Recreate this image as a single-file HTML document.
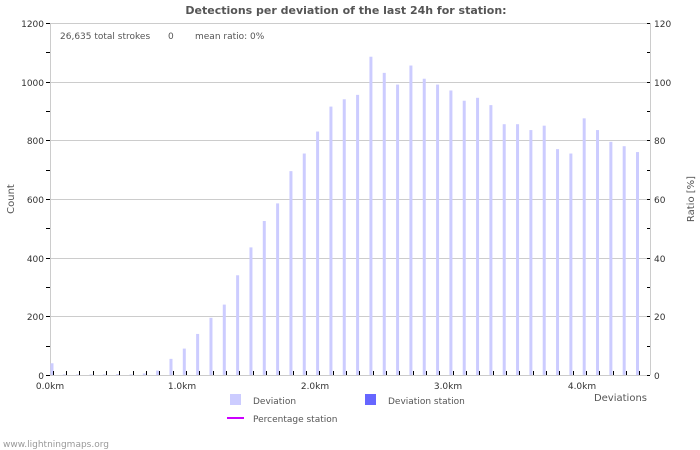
<!DOCTYPE html>
<html><head><meta charset="utf-8"><style>
body{margin:0;background:#fff;}
svg{display:block;font-family:"DejaVu Sans","Liberation Sans",sans-serif;}
</style></head><body>
<svg width="700" height="450" xmlns="http://www.w3.org/2000/svg">
<rect width="700" height="450" fill="#fff"/>
<text x="346" y="14" text-anchor="middle" font-size="11" font-weight="bold" fill="#555">Detections per deviation of the last 24h for station:</text>
<g stroke="#ccc" stroke-width="1">
<line x1="50" y1="23.5" x2="650" y2="23.5"/>
<line x1="50" y1="82.5" x2="650" y2="82.5"/>
<line x1="50" y1="140.5" x2="650" y2="140.5"/>
<line x1="50" y1="199.5" x2="650" y2="199.5"/>
<line x1="50" y1="258.5" x2="650" y2="258.5"/>
<line x1="50" y1="316.5" x2="650" y2="316.5"/>
<line x1="50.5" y1="23" x2="50.5" y2="375"/>
<line x1="650.5" y1="23" x2="650.5" y2="375"/>
</g>
<g id="bars" fill="#ccccff"></g>
<line x1="50" y1="375.5" x2="650" y2="375.5" stroke="#ccc"/>
<g id="ticks" stroke="#000" stroke-width="1"></g>
<g font-size="9" fill="#333" text-anchor="end">
<text x="44" y="27">1200</text><text x="44" y="86">1000</text><text x="44" y="144">800</text>
<text x="44" y="203">600</text><text x="44" y="262">400</text><text x="44" y="320">200</text><text x="44" y="379">0</text>
</g>
<g font-size="9" fill="#333">
<text x="654" y="27">120</text><text x="654" y="86">100</text><text x="654" y="144">80</text>
<text x="654" y="203">60</text><text x="654" y="262">40</text><text x="654" y="320">20</text><text x="654" y="379">0</text>
</g>
<g font-size="9" fill="#333" text-anchor="middle">
<text x="50" y="389">0.0km</text><text x="182" y="389">1.0km</text><text x="315" y="389">2.0km</text>
<text x="448" y="389">3.0km</text><text x="582" y="389">4.0km</text>
</g>
<text x="60" y="39" font-size="9" fill="#555">26,635 total strokes</text>
<text x="168" y="39" font-size="9" fill="#555">0</text>
<text x="195" y="39" font-size="9" fill="#555">mean ratio: 0%</text>
<text x="14" y="199" font-size="10" fill="#555" text-anchor="middle" transform="rotate(-90 14 199)">Count</text>
<text x="694" y="199" font-size="10" fill="#555" text-anchor="middle" transform="rotate(-90 694 199)">Ratio [%]</text>
<text x="647" y="401" font-size="10" fill="#555" text-anchor="end">Deviations</text>
<rect x="230" y="394" width="11" height="11" fill="#ccccff"/>
<text x="253" y="404" font-size="9" fill="#555">Deviation</text>
<rect x="365" y="394" width="11" height="11" fill="#6666ff"/>
<text x="388" y="404" font-size="9" fill="#555">Deviation station</text>
<line x1="227" y1="418" x2="244" y2="418" stroke="#cc00ff" stroke-width="2"/>
<text x="253" y="422" font-size="9" fill="#555">Percentage station</text>
<text x="3" y="447" font-size="9" fill="#999">www.lightningmaps.org</text>
</svg>
<script>
var v=[40,2,2,2,2,3,2,5,15,55,90,140,195,240,340,435,525,585,695,755,830,915,940,955,1085,1030,990,1055,1010,990,970,935,945,920,855,855,835,850,770,755,875,835,795,780,760];
var b=document.getElementById('bars'),t=document.getElementById('ticks'),ns='http://www.w3.org/2000/svg';
v.forEach(function(x,i){var r=document.createElementNS(ns,'rect');var h=x*352/1200;var xx=i==0?50.5:49.5+13.33*i;
r.setAttribute('x',xx);r.setAttribute('width',3);r.setAttribute('y',375-h);r.setAttribute('height',h);b.appendChild(r);});
for(var i=1;i<=45;i++){var l=document.createElementNS(ns,'line');var x=Math.round(52.7+13.33*(i-1))+0.5;l.setAttribute('x1',x);l.setAttribute('x2',x);l.setAttribute('y1',371);l.setAttribute('y2',375);t.appendChild(l);}
for(var k=0;k<=12;k++){var y=Math.round(375-k*352/12)+0.5;var a=document.createElementNS(ns,'line');a.setAttribute('x1',46);a.setAttribute('x2',50);a.setAttribute('y1',y);a.setAttribute('y2',y);t.appendChild(a);
var c=document.createElementNS(ns,'line');c.setAttribute('x1',647);c.setAttribute('x2',650);c.setAttribute('y1',y);c.setAttribute('y2',y);t.appendChild(c);}
</script>
</body></html>
